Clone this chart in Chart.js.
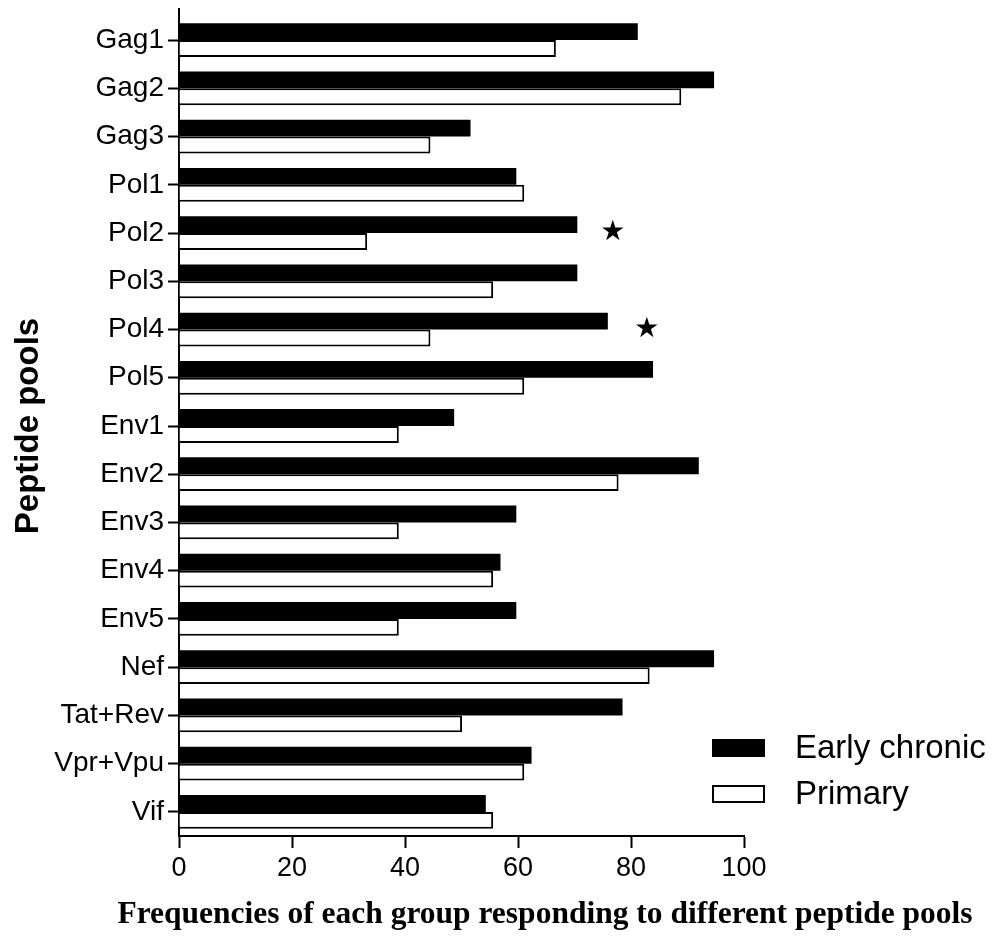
<!DOCTYPE html>
<html><head><meta charset="utf-8">
<script src="https://cdn.jsdelivr.net/npm/chart.js@4.4.1/dist/chart.umd.min.js"></script>
<style>html,body{margin:0;padding:0;background:#fff;} canvas{display:block;}</style>
</head><body>
<canvas id="c" width="997" height="942"></canvas>
<script>
const categories = ['Gag1','Gag2','Gag3','Pol1','Pol2','Pol3','Pol4','Pol5','Env1','Env2','Env3','Env4','Env5','Nef','Tat+Rev','Vpr+Vpu','Vif'];
const earlyChronic = [81.2,94.7,51.6,59.7,70.5,70.5,75.9,83.9,48.7,92.0,59.7,56.9,59.7,94.7,78.5,62.4,54.3];
const primary = [66.7,88.9,44.5,61.1,33.3,55.6,44.5,61.1,38.9,77.8,38.9,55.6,38.9,83.3,50.1,61.1,55.6];
const xTicks = [0,20,40,60,80,100];
const starCategories = ['Pol2','Pol4'];
const starValues = [76.8, 82.8];
const seriesLabels = ['Early chronic','Primary'];
const xTitle = 'Frequencies of each group responding to different peptide pools';
const yTitle = 'Peptide pools';

const SANS = '"Liberation Sans", Arial, sans-serif';

const extras = {
  id: 'extras',
  afterDraw(chart) {
    const {ctx, chartArea, scales} = chart;
    const x = scales.x, y = scales.y;
    ctx.save();
    // y-axis line extends a little above the plot
    ctx.strokeStyle = '#000';
    ctx.lineWidth = 2;
    ctx.beginPath();
    ctx.moveTo(chartArea.left, chartArea.top - 8);
    ctx.lineTo(chartArea.left, chartArea.top + 1);
    ctx.stroke();

    // significance stars
    ctx.fillStyle = '#000';
    ctx.font = '28px "DejaVu Sans", sans-serif';
    ctx.textAlign = 'center';
    ctx.textBaseline = 'middle';
    starCategories.forEach((cat, i) => {
      const px = x.getPixelForValue(starValues[i]);
      const py = y.getPixelForValue(categories.indexOf(cat));
      ctx.fillText('\u2605', px, py);
    });

    // legend
    const ds = chart.data.datasets;
    const boxX = 712, boxW = 53, boxH = 18, rowY = [739, 785];
    ds.forEach((d, i) => {
      const by = rowY[i];
      ctx.fillStyle = d.backgroundColor;
      ctx.fillRect(boxX, by, boxW, boxH);
      ctx.strokeStyle = '#000';
      ctx.lineWidth = 2;
      ctx.strokeRect(boxX + 1, by + 1, boxW - 2, boxH - 2);
      ctx.fillStyle = '#000';
      ctx.font = '33px ' + SANS;
      ctx.textAlign = 'left';
      ctx.textBaseline = 'middle';
      ctx.fillText(d.label, 795, by + boxH / 2 + 1);
    });

    // x-axis title
    ctx.font = 'bold 31.5px "Liberation Serif", "Times New Roman", serif';
    ctx.textAlign = 'center';
    ctx.textBaseline = 'alphabetic';
    ctx.fillStyle = '#000';
    ctx.fillText(xTitle, 545, 923);
    ctx.restore();
  }
};

new Chart(document.getElementById('c'), {
  type: 'bar',
  data: {
    labels: categories,
    datasets: [
      { label: seriesLabels[0], data: earlyChronic, backgroundColor: '#000', borderColor: '#000', borderWidth: 0,
        categoryPercentage: 0.7, barPercentage: 1.0 },
      { label: seriesLabels[1], data: primary, backgroundColor: '#fff', borderColor: '#000', borderWidth: 2,
        categoryPercentage: 0.7, barPercentage: 1.0 }
    ]
  },
  options: {
    indexAxis: 'y',
    responsive: false,
    animation: false,
    devicePixelRatio: 1,
    layout: { padding: { top: 16, right: 253, left: 0, bottom: 0 } },
    plugins: { legend: { display: false }, tooltip: { enabled: false } },
    scales: {
      x: {
        min: 0, max: 100,
        afterBuildTicks: s => { s.ticks = xTicks.map(v => ({ value: v })); },
        afterFit: s => { s.height = 106; s.paddingLeft = 0; s.paddingRight = 0; },
        border: { display: true, color: '#000', width: 2 },
        grid: { drawOnChartArea: false, drawTicks: true, tickLength: 12, tickColor: '#000', tickWidth: 2 },
        ticks: { color: '#000', font: { family: SANS, size: 27 }, padding: 4, maxRotation: 0 }
      },
      y: {
        afterFit: s => { s.width = 179; s.paddingTop = 0; s.paddingBottom = 0; },
        border: { display: true, color: '#000', width: 2 },
        grid: { offset: false, drawOnChartArea: false, drawTicks: true, tickLength: 11, tickColor: '#000', tickWidth: 2 },
        ticks: { color: '#000', font: { family: SANS, size: 28 }, padding: 4, autoSkip: false },
        title: { display: true, text: yTitle, color: '#000',
          font: { family: SANS, size: 33, weight: 'bold', lineHeight: 1.2 }, padding: { top: 9, bottom: 0 } }
      }
    }
  },
  plugins: [extras]
});
</script>
</body></html>
